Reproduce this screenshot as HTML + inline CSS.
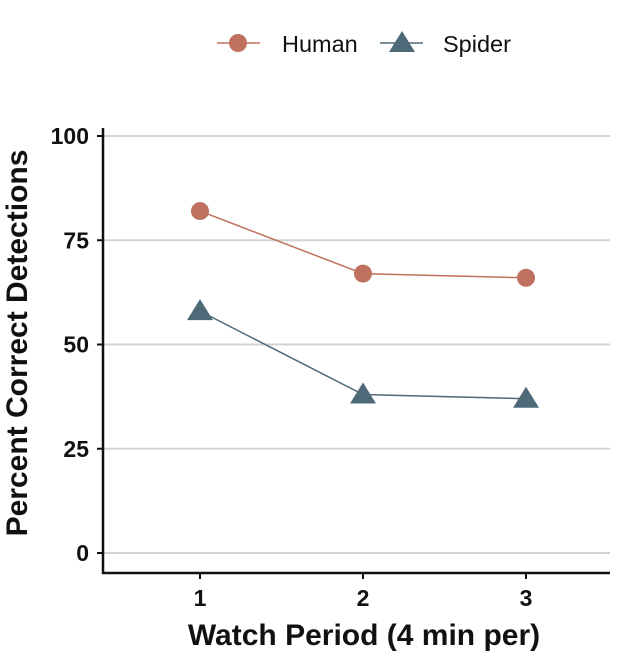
<!DOCTYPE html>
<html><head><meta charset="utf-8"><style>
body{margin:0;background:#fff;}
svg text{font-family:"Liberation Sans",Arial,sans-serif;}
</style></head><body>
<svg id="chart" width="624" height="660">
<g>
<g>
<line x1="217" y1="43" x2="260" y2="43" stroke="#c0705e" stroke-width="1.5"/>
<circle cx="238" cy="43" r="9" fill="#c0705e"/>
<text x="282" y="52" font-size="23.5" fill="#111">Human</text></g>
<g>
<line x1="380" y1="43" x2="423" y2="43" stroke="#4e6a78" stroke-width="1.5"/>
<polygon points="402,31 415,52 389,52" fill="#4e6a78"/>
<text x="443" y="52" font-size="23.5" fill="#111">Spider</text></g>
</g>
<g id="grid"></g>
<g id="axes"></g>
<g id="series"></g>
<text x="364" y="645" font-size="30" font-weight="bold" text-anchor="middle" fill="#111">Watch Period (4 min per)</text>
<text transform="translate(27,343) rotate(-90)" font-size="30" font-weight="bold" text-anchor="middle" fill="#111">Percent Correct Detections</text>
</svg>
<script>
const categories=[1,2,3];
const humanValues=[82,67,66];
const spiderValues=[58,38,37];
const yTicks=[0,25,50,75,100];
const NS="http://www.w3.org/2000/svg";
function xS(v){return 200+(v-1)*163;}
function yS(v){return 553-v*4.17;}
function mk(tag,attrs,parent){const e=document.createElementNS(NS,tag);for(const k in attrs)e.setAttribute(k,attrs[k]);parent.appendChild(e);return e;}
const grid=document.getElementById('grid'),axes=document.getElementById('axes'),series=document.getElementById('series');
yTicks.forEach(t=>{
 const l=mk('line',{x1:103,x2:610,y1:yS(t),y2:yS(t),stroke:'#d3d3d3','stroke-width':2},grid);
 
 
 mk('line',{x1:97,x2:103,y1:yS(t),y2:yS(t),stroke:'#111','stroke-width':2},axes);
 const tx=mk('text',{x:89,y:yS(t)+8,'font-size':23,'font-weight':'bold','text-anchor':'end',fill:'#111'},axes);
 tx.textContent=t;
 
 
});
mk('line',{x1:103,x2:103,y1:128,y2:574,stroke:'#111','stroke-width':2.5},axes);
mk('line',{x1:102,x2:610,y1:573,y2:573,stroke:'#111','stroke-width':2.5},axes);
categories.forEach(c=>{
 mk('line',{x1:xS(c),x2:xS(c),y1:573,y2:579,stroke:'#111','stroke-width':2},axes);
 const tx=mk('text',{x:xS(c),y:606,'font-size':23,'font-weight':'bold','text-anchor':'middle',fill:'#111'},axes);
 tx.textContent=c;
 
 
});
function drawSeries(vals,color,shape,name){
 const pl=mk('polyline',{points:categories.map((c,i)=>xS(c)+','+yS(vals[i])).join(' '),fill:'none',stroke:color,'stroke-width':1.5},series);
 
 
 categories.forEach((c,i)=>{
  const x=xS(c),y=yS(vals[i]);let m;
  if(shape==='circle')m=mk('circle',{cx:x,cy:y,r:9,fill:color},series);
  else m=mk('polygon',{points:`${x},${y-12} ${x+13},${y+9} ${x-13},${y+9}`,fill:color},series);
  
  
 });
}
drawSeries(humanValues,'#c0705e','circle','human');
drawSeries(spiderValues,'#4e6a78','triangle','spider');
</script>
</body></html>
